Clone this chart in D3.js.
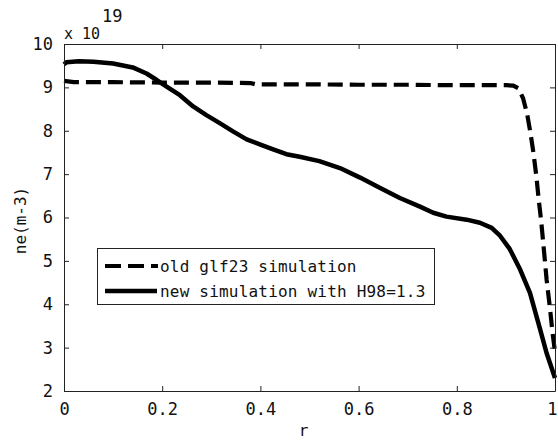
<!DOCTYPE html>
<html>
<head>
<meta charset="utf-8">
<script src="https://cdn.jsdelivr.net/npm/d3@7"></script>
<style>
  html, body { margin: 0; padding: 0; background: #fff; }
  svg { display: block; }
  text { font-family: "DejaVu Sans Mono", monospace; fill: #111; }
</style>
</head>
<body>
<script>
// Electron density profiles ne(r), in units of 1e19 m^-3
const rOld = [0, 0.02, 0.1, 0.2, 0.3, 0.38, 0.39, 0.5, 0.6, 0.7, 0.8, 0.9, 0.915, 0.925,
  0.935, 0.943, 0.95, 0.956, 0.962, 0.967, 0.972, 0.977, 0.983, 0.99, 0.995, 1.0];
const neOld = [9.15, 9.12, 9.12, 9.11, 9.11, 9.1, 9.07, 9.07, 9.06, 9.06, 9.05, 9.05, 9.04, 8.98,
  8.75, 8.4, 7.95, 7.5, 6.95, 6.4, 5.9, 5.3, 4.56, 3.88, 3.34, 2.9];

const rNew = [0, 0.005, 0.03, 0.06, 0.1, 0.14, 0.168, 0.189, 0.209, 0.236, 0.263, 0.29, 0.318,
  0.345, 0.372, 0.4, 0.426, 0.453, 0.48, 0.52, 0.562, 0.603, 0.644, 0.684, 0.725, 0.752,
  0.779, 0.82, 0.847, 0.871, 0.888, 0.908, 0.929, 0.949, 0.969, 0.983, 1.0];
const neNew = [9.53, 9.58, 9.6, 9.59, 9.55, 9.46, 9.32, 9.17, 9.02, 8.82, 8.56, 8.36, 8.17,
  7.98, 7.8, 7.68, 7.57, 7.46, 7.4, 7.3, 7.14, 6.92, 6.68, 6.45, 6.25, 6.11,
  6.02, 5.95, 5.88, 5.76, 5.58, 5.27, 4.8, 4.26, 3.45, 2.87, 2.3];

const xTicks = [0, 0.2, 0.4, 0.6, 0.8, 1];
const xTickLabels = ["0", "0.2", "0.4", "0.6", "0.8", "1"];
const yTicks = [2, 3, 4, 5, 6, 7, 8, 9, 10];
const yTickLabels = ["2", "3", "4", "5", "6", "7", "8", "9", "10"];

const seriesNames = ["old glf23 simulation", "new simulation with H98=1.3"];

const W = 558, H = 441;
const m = { left: 64, right: 3, top: 44, bottom: 50 };

const svg = d3.select("body").append("svg").attr("width", W).attr("height", H);

const x = d3.scaleLinear().domain([0, 1]).range([m.left, W - m.right]);
const y = d3.scaleLinear().domain([2, 10]).range([H - m.bottom, m.top]);

const line = d3.line().x(d => x(d[0])).y(d => y(d[1]));

const plot = svg.append("g");

// curves
plot.append("path")
  .datum(d3.zip(rOld, neOld))
  .attr("d", line)
  .attr("fill", "none").attr("stroke", "#000").attr("stroke-width", 4.2)
  .attr("stroke-dasharray", "15,7");

plot.append("path")
  .datum(d3.zip(rNew, neNew))
  .attr("d", line)
  .attr("fill", "none").attr("stroke", "#000").attr("stroke-width", 4.5)
  .attr("stroke-linejoin", "round");

// axes box with inward ticks on all sides
const tickLen = 5;
const axisColor = "#222";
const xb = d3.axisBottom(x).tickValues(xTicks).tickFormat((d, i) => xTickLabels[i])
  .tickSizeInner(-tickLen).tickSizeOuter(0).tickPadding(12);
const xt = d3.axisTop(x).tickValues(xTicks).tickFormat("")
  .tickSizeInner(-tickLen).tickSizeOuter(0);
const yl = d3.axisLeft(y).tickValues(yTicks).tickFormat((d, i) => yTickLabels[i])
  .tickSizeInner(-tickLen).tickSizeOuter(0).tickPadding(11);
const yr = d3.axisRight(y).tickValues(yTicks).tickFormat("")
  .tickSizeInner(-tickLen).tickSizeOuter(0);

function styleAxis(g) {
  g.selectAll("path.domain").attr("stroke", axisColor).attr("stroke-width", 1);
  g.selectAll(".tick line").attr("stroke", axisColor).attr("stroke-width", 1);
  g.selectAll(".tick text").attr("font-family", "DejaVu Sans Mono").attr("font-size", 17).attr("fill", "#111");
}

const xAxisG = svg.append("g").attr("transform", `translate(0,${y(2)})`).call(xb).call(styleAxis);
// the last label sits against the window edge, so keep it inside
xAxisG.selectAll(".tick text").filter(d => d === 1)
  .attr("text-anchor", "end").attr("x", W - 1 - x(1));
svg.append("g").attr("transform", `translate(0,${y(10)})`).call(xt).call(styleAxis);
svg.append("g").attr("transform", `translate(${x(0)},0)`).call(yl).call(styleAxis);
svg.append("g").attr("transform", `translate(${x(1)},0)`).call(yr).call(styleAxis);

// exponent multiplier
svg.append("text").attr("x", x(0)).attr("y", 39).attr("font-size", 15).text("x 10");
svg.append("text").attr("x", x(0) + 38).attr("y", 22).attr("font-size", 17).text("19");

// axis labels
svg.append("text").attr("x", (x(0) + x(1)) / 2 - 6).attr("y", 436)
  .attr("text-anchor", "middle").attr("font-size", 16).text("r");
svg.append("text").attr("transform", `translate(26,${(y(2) + y(10)) / 2 + 3}) rotate(-90)`)
  .attr("text-anchor", "middle").attr("font-size", 16).text("ne(m-3)");

// legend
const lg = svg.append("g");
lg.append("rect").attr("x", 97.5).attr("y", 248.5).attr("width", 337).attr("height", 56)
  .attr("fill", "#fff").attr("stroke", axisColor).attr("stroke-width", 1);
const rows = [266, 291];
lg.append("line").attr("x1", 105).attr("x2", 158).attr("y1", rows[0]).attr("y2", rows[0])
  .attr("stroke", "#000").attr("stroke-width", 4.2).attr("stroke-dasharray", "16,7");
lg.append("line").attr("x1", 105).attr("x2", 157).attr("y1", rows[1]).attr("y2", rows[1])
  .attr("stroke", "#000").attr("stroke-width", 4.5);
seriesNames.forEach((s, i) => {
  lg.append("text").attr("x", 160).attr("y", rows[i] + 6).attr("font-size", 16)
    .attr("letter-spacing", 0.2).text(s);
});
</script>
</body>
</html>
